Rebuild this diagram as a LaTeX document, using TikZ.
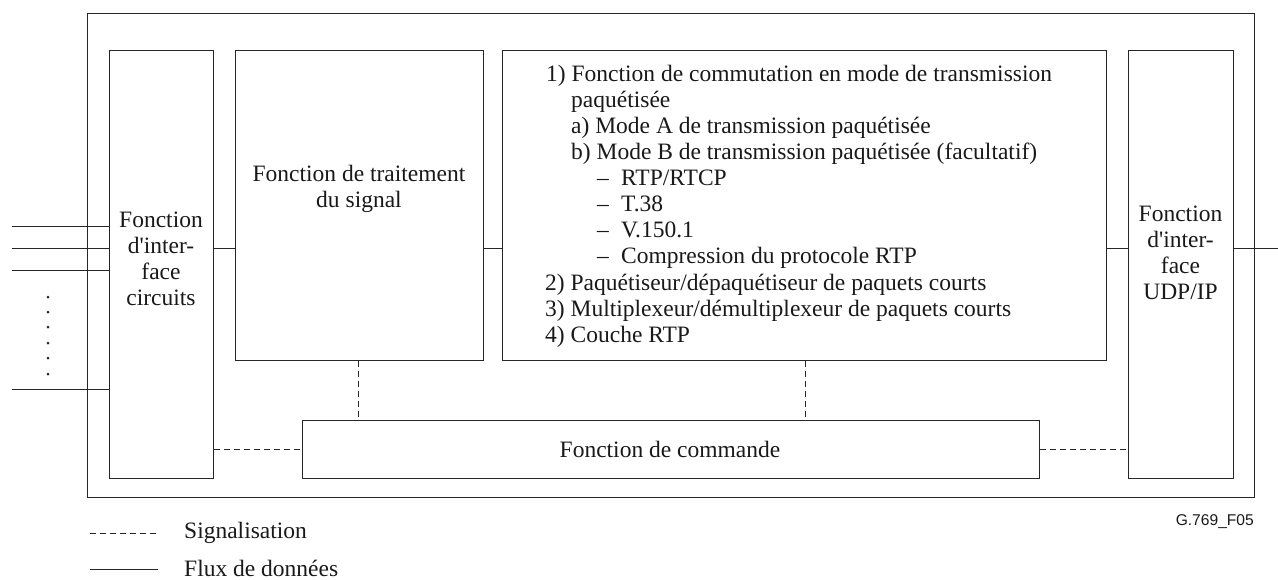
\documentclass[tikz,border=0pt]{standalone}
\usepackage{fontspec}
\setmainfont{Liberation Serif}
\newfontfamily\figsans{Liberation Sans}
\begin{document}
\begin{tikzpicture}[x=1pt,y=-1pt,
  ln/.style={line width=1pt,draw=black!85},
  boxst/.style={ln,rectangle,inner sep=0pt},
  sig/.style={ln,dash pattern=on 6pt off 4pt},
  txt/.style={inner sep=0pt,text=black!90,font=\fontsize{23.5}{26}\selectfont,align=center},
  ltxt/.style={inner sep=0pt,text=black!90,font=\fontsize{23.5}{26}\selectfont,anchor=base west},
  dotst/.style={circle,fill=black!85,inner sep=0pt,minimum size=3pt}]
\useasboundingbox (0,0) rectangle (1278,579);
% boxes
\draw[ln] (87,13) rectangle (1254,497);
\node[boxst,anchor=north west,minimum width=104pt,minimum height=428pt] (circ) at (109,50) {};
\node[boxst,anchor=north west,minimum width=248pt,minimum height=310pt] (sigp) at (235,50) {};
\node[boxst,anchor=north west,minimum width=604pt,minimum height=310pt] (pkt) at (502,50) {};
\node[boxst,anchor=north west,minimum width=105pt,minimum height=428pt] (udp) at (1128,50) {};
\node[boxst,anchor=north west,minimum width=737pt,minimum height=58pt] (cmd) at (302,420) {};
% texts
\node[txt] (tcirc) at (161,259) {Fonction\\d\textquotesingle inter-\\face\\circuits};
\node[txt] (tudp) at (1180.5,253) {Fonction\\d\textquotesingle inter-\\face\\UDP/IP};
\node[txt] (tsig) at (359,189) {Fonction de traitement\\du signal};
\node[txt] (tcmd) at (670,449) {Fonction de commande};
\node[ltxt] (p1) at (546,81) {1) Fonction de commutation en mode de transmission};
\node[ltxt] (p2) at (571,107) {paquétisée};
\node[ltxt] (p3) at (571,133) {a) Mode A de transmission paquétisée};
\node[ltxt] (p4) at (571,159) {b) Mode B de transmission paquétisée (facultatif)};
\node[ltxt] (p5) at (597,185) {\makebox[24pt][l]{–}RTP/RTCP};
\node[ltxt] (p6) at (597,211) {\makebox[24pt][l]{–}T.38};
\node[ltxt] (p7) at (597,237) {\makebox[24pt][l]{–}V.150.1};
\node[ltxt] (p8) at (597,263) {\makebox[24pt][l]{–}Compression du protocole RTP};
\node[ltxt] (p9) at (545,290) {2) Paquétiseur/dépaquétiseur de paquets courts};
\node[ltxt] (p10) at (545,316) {3) Multiplexeur/démultiplexeur de paquets courts};
\node[ltxt] (p11) at (545,342) {4) Couche RTP};
% data flow lines
\coordinate (yd) at (0,248);
\coordinate (in1) at (12,226);
\coordinate (in2) at (12,248);
\coordinate (in3) at (12,270);
\coordinate (in4) at (12,389);
\coordinate (outE) at (1278,248);
\draw[ln] (in1) -- (in1 -| circ.west);
\draw[ln] (in2) -- (in2 -| circ.west);
\draw[ln] (in3) -- (in3 -| circ.west);
\draw[ln] (in4) -- (in4 -| circ.west);
\draw[ln] (circ.east |- yd) -- (sigp.west |- yd);
\draw[ln] (sigp.east |- yd) -- (pkt.west |- yd);
\draw[ln] (pkt.east |- yd) -- (udp.west |- yd);
\draw[ln] (udp.east |- yd) -- (outE);
\foreach \i/\yy in {1/297,2/312,3/327,4/343,5/358,6/374}
  \node[dotst] (d\i) at (48,\yy) {};
% signalling
\coordinate (ys) at (0,449);
\draw[sig] (sigp.south -| 358,0) -- (cmd.north -| 358,0);
\draw[sig] (pkt.south -| 805,0) -- (cmd.north -| 805,0);
\draw[sig] (circ.east |- ys) -- (cmd.west |- ys);
\draw[sig] (cmd.east |- ys) -- (udp.west |- ys);
% legend
\coordinate (l1a) at (90,533); \coordinate (l1b) at (158,533);
\coordinate (l2a) at (90,569); \coordinate (l2b) at (158,569);
\draw[sig] (l1a) -- (l1b);
\draw[ln] (l2a) -- (l2b);
\node[txt,anchor=west] (lg1) at (184,533) {Signalisation};
\node[txt,anchor=west] (lg2) at (184,568) {Flux de données};
\node[inner sep=0pt,anchor=east,text=black!90,font=\figsans\fontsize{15.6}{18}\selectfont] (fig) at (1254,522) {G.769\_F05};
\end{tikzpicture}
\end{document}
